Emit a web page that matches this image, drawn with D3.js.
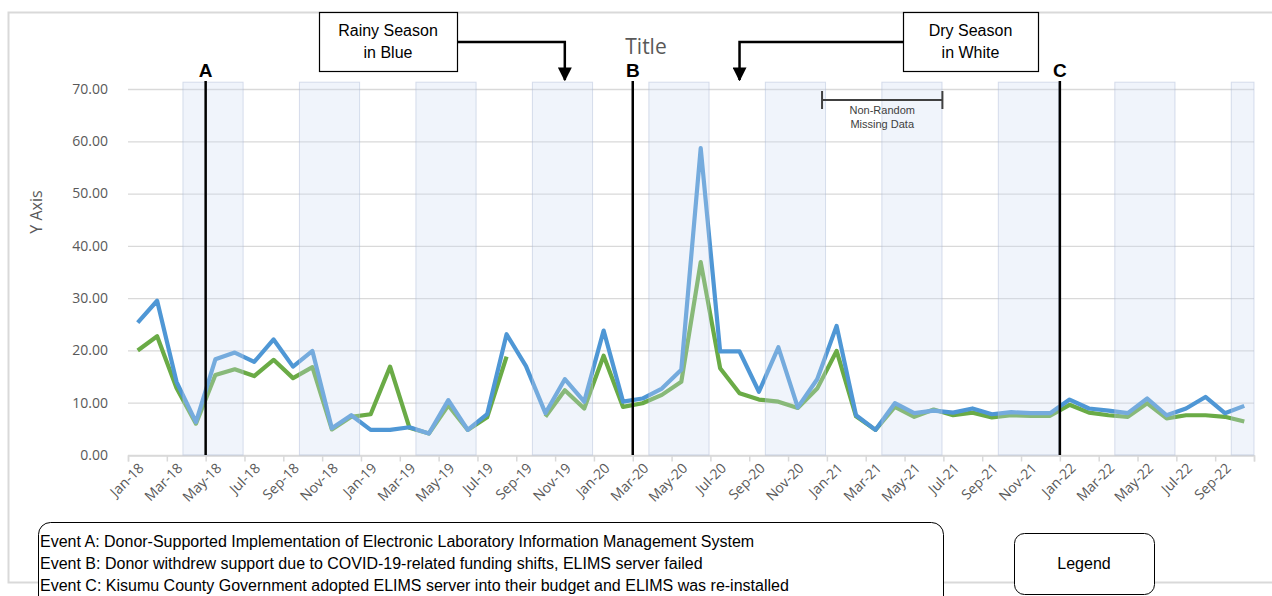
<!DOCTYPE html>
<html>
<head>
<meta charset="utf-8">
<script src="https://cdn.jsdelivr.net/npm/d3@7"></script>
<style>
  body { margin: 0; background: #fff; }
  svg { display: block; }
</style>
</head>
<body>
<svg id="chart" width="1272" height="596"></svg>
<script>
// categories (monthly)
var months = ["Jan-18","Feb-18","Mar-18","Apr-18","May-18","Jun-18","Jul-18","Aug-18","Sep-18","Oct-18","Nov-18","Dec-18",
              "Jan-19","Feb-19","Mar-19","Apr-19","May-19","Jun-19","Jul-19","Aug-19","Sep-19","Oct-19","Nov-19","Dec-19",
              "Jan-20","Feb-20","Mar-20","Apr-20","May-20","Jun-20","Jul-20","Aug-20","Sep-20","Oct-20","Nov-20","Dec-20",
              "Jan-21","Feb-21","Mar-21","Apr-21","May-21","Jun-21","Jul-21","Aug-21","Sep-21","Oct-21","Nov-21","Dec-21",
              "Jan-22","Feb-22","Mar-22","Apr-22","May-22","Jun-22","Jul-22","Aug-22","Sep-22","Oct-22"];

// series values
var blueValues = [25.3,29.5,14.0,6.3,18.3,19.6,17.8,22.1,16.9,19.9,5.1,7.6,
                  4.8,4.8,5.3,4.1,10.5,4.8,7.8,23.1,17.0,8.0,14.5,10.2,
                  23.8,10.2,10.8,12.7,16.3,58.7,19.8,19.8,12.1,20.6,9.1,14.5,
                  24.7,7.6,4.8,9.9,8.0,8.5,8.1,8.9,7.8,8.2,8.0,8.0,
                  10.6,8.9,8.5,8.0,10.8,7.6,8.9,11.1,8.0,9.4];
var greenValues = [20.0,22.7,12.8,6.0,15.3,16.4,15.1,18.2,14.7,16.8,4.9,7.3,
                   7.8,16.9,5.2,4.1,9.5,4.8,7.2,18.8,null,7.3,12.4,8.9,
                   19.0,9.2,9.9,11.5,14.0,36.9,16.6,11.8,10.6,10.2,9.0,12.7,
                   19.9,7.4,4.8,9.2,7.3,8.7,7.6,8.1,7.2,7.6,7.5,7.5,
                   9.6,8.1,7.6,7.3,9.9,7.0,7.6,7.6,7.3,6.4];

// rainy season bands (start month, 3 months each)
var rainyStarts = ["Apr-18","Oct-18","Apr-19","Oct-19","Apr-20","Oct-20","Apr-21","Oct-21","Apr-22","Oct-22"];
var rainyLength = 3;

// events
var events = [{label: "A", month: "May-18"}, {label: "B", month: "Mar-20"}, {label: "C", month: "Jan-22"}];
var eventTexts = [
  "Event A: Donor-Supported Implementation of Electronic Laboratory Information Management System",
  "Event B: Donor withdrew support due to COVID-19-related funding shifts, ELIMS server failed",
  "Event C: Kisumu County Government adopted ELIMS server into their budget and ELIMS was re-installed"
];

var yTicks = [0, 10, 20, 30, 40, 50, 60, 70];

var svg = d3.select("#chart");
var plot = {left: 128, right: 1254, top: 89, bottom: 455};

// index scale: category i spans [i, i+1]
var x = d3.scaleLinear().domain([0, months.length]).range([plot.left, plot.right]);
var y = d3.scaleLinear().domain([0, 70]).range([plot.bottom, plot.top]);
function xc(i) { return x(i + 0.5); }

// outer chart border
svg.append("rect")
  .attr("x", 8.5).attr("y", 12.5).attr("width", 1300).attr("height", 570)
  .attr("fill", "none").attr("stroke", "#d9d9d9").attr("stroke-width", 2);

// gridlines
svg.append("g").selectAll("line").data(yTicks).enter().append("line")
  .attr("x1", plot.left).attr("x2", plot.right)
  .attr("y1", function(d) { return y(d) + 0.5; }).attr("y2", function(d) { return y(d) + 0.5; })
  .attr("stroke", "#d9d9d9").attr("stroke-width", 1.3);

// y tick labels
svg.append("g").selectAll("text").data(yTicks).enter().append("text")
  .attr("x", 108).attr("y", function(d) { return y(d); })
  .attr("dy", "0.35em").attr("text-anchor", "end")
  .style("font-family", "'Open Sans', sans-serif").style("font-size", "14px").attr("fill", "#595959")
  .text(function(d) { return d3.format(".2f")(d); });

// y axis title
svg.append("text")
  .attr("transform", "translate(42," + ((plot.top + plot.bottom) / 2 - 60) + ")rotate(-90)")
  .attr("text-anchor", "middle")
  .style("font-family", "'Open Sans', sans-serif").style("font-size", "16px").attr("fill", "#595959")
  .text("Y Axis");

// x axis with ticks every 2 categories
var xAxis = d3.axisBottom(x).tickValues(d3.range(0, months.length + 1, 2)).tickSize(6).tickFormat("");
var gx = svg.append("g").attr("transform", "translate(0," + (plot.bottom + 0.5) + ")").call(xAxis);
gx.select(".domain").attr("stroke", "#d9d9d9").attr("stroke-width", 1.5);
gx.selectAll(".tick line").attr("stroke", "#d9d9d9").attr("stroke-width", 1.5);

// x labels
svg.append("g").selectAll("text").data(months.filter(function(d, i) { return i % 2 === 0; })).enter()
  .append("text")
  .attr("transform", function(d) {
    return "translate(" + (xc(months.indexOf(d)) + 7) + "," + (plot.bottom + 14) + ")rotate(-45)";
  })
  .attr("text-anchor", "end")
  .style("font-family", "'Open Sans', sans-serif").style("font-size", "14px").attr("fill", "#595959")
  .text(function(d) { return d; });

// lines
var line = d3.line()
  .defined(function(d) { return d != null; })
  .x(function(d, i) { return xc(i); })
  .y(function(d) { return y(d); });

svg.append("path").datum(greenValues)
  .attr("d", line).attr("fill", "none").attr("stroke", "#6aab46")
  .attr("stroke-width", 4.2).attr("stroke-linejoin", "round");
svg.append("path").datum(blueValues)
  .attr("d", line).attr("fill", "none").attr("stroke", "#4f97d5")
  .attr("stroke-width", 4.2).attr("stroke-linejoin", "round");

// rainy season bands, translucent over the lines
svg.append("g").selectAll("rect").data(rainyStarts).enter().append("rect")
  .attr("x", function(d) { return x(months.indexOf(d) - 0.17); })
  .attr("y", y(71.3))
  .attr("width", function(d) {
    var s = months.indexOf(d) - 0.17;
    var e = Math.min(s + rainyLength + 0.1, months.length);
    return x(e) - x(s);
  })
  .attr("height", y(0) - y(71.3))
  .attr("fill", "rgb(206,219,242)").attr("fill-opacity", 0.3)
  .attr("stroke", "rgb(170,185,212)").attr("stroke-opacity", 0.45).attr("stroke-width", 1);

// event lines
var ev = svg.append("g").selectAll("g").data(events).enter().append("g");
ev.append("line")
  .attr("x1", function(d) { return x(months.indexOf(d.month)); })
  .attr("x2", function(d) { return x(months.indexOf(d.month)); })
  .attr("y1", 81).attr("y2", plot.bottom)
  .attr("stroke", "#000").attr("stroke-width", 2.5);
ev.append("text")
  .attr("x", function(d) { return x(months.indexOf(d.month)); })
  .attr("y", 77)
  .attr("text-anchor", "middle")
  .style("font-family", "'Liberation Sans', Arial, sans-serif").style("font-size", "19px").style("font-weight", "bold")
  .attr("fill", "#000")
  .text(function(d) { return d.label; });

// title
svg.append("text").attr("x", 646).attr("y", 54).attr("text-anchor", "middle")
  .style("font-family", "'Open Sans', sans-serif").style("font-size", "21px").attr("fill", "#595959")
  .text("Title");

// arrow marker
svg.append("defs").append("marker")
  .attr("id", "arrow").attr("viewBox", "0 0 10 10").attr("refX", 9).attr("refY", 5)
  .attr("markerWidth", 14).attr("markerHeight", 14).attr("markerUnits", "userSpaceOnUse")
  .attr("orient", "auto")
  .append("path").attr("d", "M0,0 L10,5 L0,10 Z").attr("fill", "#000");

function callout(bx, bw, lines, arrowIdx, fromRight) {
  var g = svg.append("g");
  var ax = xc(arrowIdx);
  var sx = fromRight ? bx + bw : bx;
  g.append("path")
    .attr("d", "M" + sx + ",42 H" + ax + " V80")
    .attr("fill", "none").attr("stroke", "#000").attr("stroke-width", 2.5)
    .attr("marker-end", "url(#arrow)");
  g.append("rect").attr("x", bx + 0.5).attr("y", 12.5).attr("width", bw).attr("height", 59)
    .attr("fill", "#fff").attr("stroke", "#000").attr("stroke-width", 1.2);
  g.selectAll("text").data(lines).enter().append("text")
    .attr("x", bx + bw / 2).attr("y", function(d, i) { return 36 + i * 22; })
    .attr("text-anchor", "middle")
    .style("font-family", "'Liberation Sans', Arial, sans-serif").style("font-size", "16px").attr("fill", "#000")
    .text(function(d) { return d; });
}
callout(319, 138, ["Rainy Season", "in Blue"], months.indexOf("Nov-19"), true);
callout(903, 135, ["Dry Season", "in White"], months.indexOf("Aug-20"), false);

// non-random missing data bracket
var b0 = x(months.indexOf("Dec-20") + 0.75), b1 = x(months.indexOf("Jun-21") + 0.95);
var br = svg.append("g").attr("stroke", "#404040").attr("stroke-width", 2);
br.append("line").attr("x1", b0).attr("x2", b1).attr("y1", 100).attr("y2", 100);
br.append("line").attr("x1", b0).attr("x2", b0).attr("y1", 91).attr("y2", 109);
br.append("line").attr("x1", b1).attr("x2", b1).attr("y1", 91).attr("y2", 109);
svg.selectAll(".mtext").data(["Non-Random", "Missing Data"]).enter().append("text")
  .attr("x", (b0 + b1) / 2).attr("y", function(d, i) { return 114 + i * 14; })
  .attr("text-anchor", "middle")
  .style("font-family", "'Liberation Sans', Arial, sans-serif").style("font-size", "11px").attr("fill", "#404040")
  .text(function(d) { return d; });

// events box
svg.append("rect").attr("x", 38.5).attr("y", 522.5).attr("width", 905).attr("height", 100)
  .attr("rx", 12).attr("fill", "#fff").attr("stroke", "#000").attr("stroke-width", 1);
svg.append("g").selectAll("text").data(eventTexts).enter().append("text")
  .attr("x", 40).attr("y", function(d, i) { return 547 + i * 22; })
  .style("font-family", "'Liberation Sans', Arial, sans-serif").style("font-size", "16px").attr("fill", "#000")
  .text(function(d) { return d; });

// legend box
svg.append("rect").attr("x", 1014.5).attr("y", 533.5).attr("width", 140).attr("height", 61)
  .attr("rx", 10).attr("fill", "#fff").attr("stroke", "#000").attr("stroke-width", 1);
svg.append("text").attr("x", 1084).attr("y", 569).attr("text-anchor", "middle")
  .style("font-family", "'Liberation Sans', Arial, sans-serif").style("font-size", "16px").attr("fill", "#000")
  .text("Legend");
</script>
</body>
</html>
